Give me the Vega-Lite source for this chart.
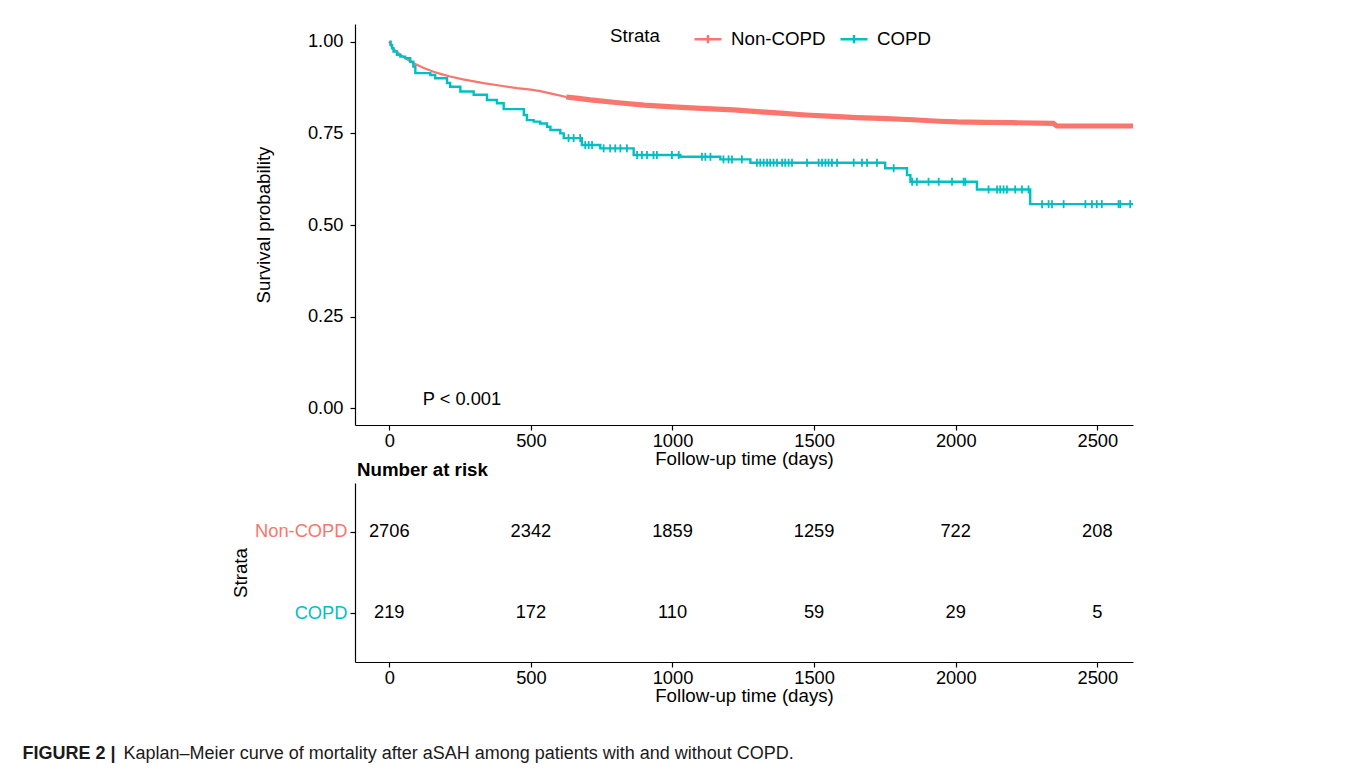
{
  "$schema": "https://vega.github.io/schema/vega-lite/v6.json",
  "background": "white",
  "padding": {"left": 22, "top": 24, "right": 10, "bottom": 10},
  "config": {
    "font": "Liberation Sans",
    "view": {"stroke": null},
    "axis": {"domainColor": "#000000", "tickColor": "#000000", "labelColor": "#000000", "titleColor": "#000000", "labelFontSize": 18.3, "titleFontSize": 18.7, "titleFontWeight": "normal", "grid": false, "tickSize": 5, "domainWidth": 1.2, "tickWidth": 1.2, "labelFont": "Liberation Sans", "titleFont": "Liberation Sans"},
    "legend": {"labelFont": "Liberation Sans", "titleFont": "Liberation Sans"}
  },
  "datasets": {
    "km": [
      {"strata": "Non-COPD", "t": 0, "S": 1.0},
      {"strata": "Non-COPD", "t": 5, "S": 0.99},
      {"strata": "Non-COPD", "t": 12, "S": 0.982},
      {"strata": "Non-COPD", "t": 20, "S": 0.976},
      {"strata": "Non-COPD", "t": 27, "S": 0.972},
      {"strata": "Non-COPD", "t": 40, "S": 0.964},
      {"strata": "Non-COPD", "t": 60, "S": 0.953},
      {"strata": "Non-COPD", "t": 86, "S": 0.941},
      {"strata": "Non-COPD", "t": 120, "S": 0.929},
      {"strata": "Non-COPD", "t": 156, "S": 0.918},
      {"strata": "Non-COPD", "t": 190, "S": 0.91},
      {"strata": "Non-COPD", "t": 215, "S": 0.905},
      {"strata": "Non-COPD", "t": 260, "S": 0.897},
      {"strata": "Non-COPD", "t": 333, "S": 0.887},
      {"strata": "Non-COPD", "t": 400, "S": 0.879},
      {"strata": "Non-COPD", "t": 451, "S": 0.873},
      {"strata": "Non-COPD", "t": 500, "S": 0.869},
      {"strata": "Non-COPD", "t": 533, "S": 0.865},
      {"strata": "Non-COPD", "t": 580, "S": 0.857},
      {"strata": "Non-COPD", "t": 625, "S": 0.849},
      {"strata": "Non-COPD", "t": 660, "S": 0.846},
      {"strata": "Non-COPD", "t": 710, "S": 0.841},
      {"strata": "Non-COPD", "t": 800, "S": 0.834},
      {"strata": "Non-COPD", "t": 900, "S": 0.827},
      {"strata": "Non-COPD", "t": 1000, "S": 0.822},
      {"strata": "Non-COPD", "t": 1100, "S": 0.818},
      {"strata": "Non-COPD", "t": 1215, "S": 0.814},
      {"strata": "Non-COPD", "t": 1300, "S": 0.809},
      {"strata": "Non-COPD", "t": 1381, "S": 0.805},
      {"strata": "Non-COPD", "t": 1470, "S": 0.8},
      {"strata": "Non-COPD", "t": 1568, "S": 0.796},
      {"strata": "Non-COPD", "t": 1650, "S": 0.793},
      {"strata": "Non-COPD", "t": 1734, "S": 0.791},
      {"strata": "Non-COPD", "t": 1850, "S": 0.787},
      {"strata": "Non-COPD", "t": 1940, "S": 0.783},
      {"strata": "Non-COPD", "t": 2005, "S": 0.781},
      {"strata": "Non-COPD", "t": 2100, "S": 0.78},
      {"strata": "Non-COPD", "t": 2200, "S": 0.779},
      {"strata": "Non-COPD", "t": 2345, "S": 0.777},
      {"strata": "Non-COPD", "t": 2357, "S": 0.77},
      {"strata": "Non-COPD", "t": 2450, "S": 0.77},
      {"strata": "Non-COPD", "t": 2626, "S": 0.77},
      {"strata": "COPD", "t": 0, "S": 1.0},
      {"strata": "COPD", "t": 5, "S": 0.991},
      {"strata": "COPD", "t": 10, "S": 0.982},
      {"strata": "COPD", "t": 15, "S": 0.973},
      {"strata": "COPD", "t": 27, "S": 0.964},
      {"strata": "COPD", "t": 39, "S": 0.959},
      {"strata": "COPD", "t": 56, "S": 0.955},
      {"strata": "COPD", "t": 74, "S": 0.945},
      {"strata": "COPD", "t": 85, "S": 0.932},
      {"strata": "COPD", "t": 92, "S": 0.914},
      {"strata": "COPD", "t": 145, "S": 0.909},
      {"strata": "COPD", "t": 162, "S": 0.9},
      {"strata": "COPD", "t": 204, "S": 0.887},
      {"strata": "COPD", "t": 215, "S": 0.877},
      {"strata": "COPD", "t": 251, "S": 0.864},
      {"strata": "COPD", "t": 298, "S": 0.855},
      {"strata": "COPD", "t": 345, "S": 0.841},
      {"strata": "COPD", "t": 380, "S": 0.832},
      {"strata": "COPD", "t": 404, "S": 0.816},
      {"strata": "COPD", "t": 475, "S": 0.8},
      {"strata": "COPD", "t": 486, "S": 0.786},
      {"strata": "COPD", "t": 510, "S": 0.782},
      {"strata": "COPD", "t": 533, "S": 0.777},
      {"strata": "COPD", "t": 557, "S": 0.768},
      {"strata": "COPD", "t": 569, "S": 0.759},
      {"strata": "COPD", "t": 604, "S": 0.75},
      {"strata": "COPD", "t": 616, "S": 0.737},
      {"strata": "COPD", "t": 680, "S": 0.718},
      {"strata": "COPD", "t": 745, "S": 0.709},
      {"strata": "COPD", "t": 863, "S": 0.691},
      {"strata": "COPD", "t": 1028, "S": 0.686},
      {"strata": "COPD", "t": 1169, "S": 0.679},
      {"strata": "COPD", "t": 1275, "S": 0.67},
      {"strata": "COPD", "t": 1751, "S": 0.655},
      {"strata": "COPD", "t": 1828, "S": 0.636},
      {"strata": "COPD", "t": 1840, "S": 0.618},
      {"strata": "COPD", "t": 2075, "S": 0.597},
      {"strata": "COPD", "t": 2263, "S": 0.557},
      {"strata": "COPD", "t": 2626, "S": 0.557}
    ],
    "censor": [
      {"strata": "COPD", "t": 633, "S": 0.737},
      {"strata": "COPD", "t": 651, "S": 0.737},
      {"strata": "COPD", "t": 674, "S": 0.737},
      {"strata": "COPD", "t": 692, "S": 0.718},
      {"strata": "COPD", "t": 704, "S": 0.718},
      {"strata": "COPD", "t": 716, "S": 0.718},
      {"strata": "COPD", "t": 757, "S": 0.709},
      {"strata": "COPD", "t": 780, "S": 0.709},
      {"strata": "COPD", "t": 798, "S": 0.709},
      {"strata": "COPD", "t": 816, "S": 0.709},
      {"strata": "COPD", "t": 839, "S": 0.709},
      {"strata": "COPD", "t": 875, "S": 0.691},
      {"strata": "COPD", "t": 892, "S": 0.691},
      {"strata": "COPD", "t": 910, "S": 0.691},
      {"strata": "COPD", "t": 933, "S": 0.691},
      {"strata": "COPD", "t": 945, "S": 0.691},
      {"strata": "COPD", "t": 998, "S": 0.691},
      {"strata": "COPD", "t": 1022, "S": 0.691},
      {"strata": "COPD", "t": 1104, "S": 0.686},
      {"strata": "COPD", "t": 1116, "S": 0.686},
      {"strata": "COPD", "t": 1134, "S": 0.686},
      {"strata": "COPD", "t": 1180, "S": 0.679},
      {"strata": "COPD", "t": 1198, "S": 0.679},
      {"strata": "COPD", "t": 1210, "S": 0.679},
      {"strata": "COPD", "t": 1245, "S": 0.679},
      {"strata": "COPD", "t": 1298, "S": 0.67},
      {"strata": "COPD", "t": 1310, "S": 0.67},
      {"strata": "COPD", "t": 1322, "S": 0.67},
      {"strata": "COPD", "t": 1334, "S": 0.67},
      {"strata": "COPD", "t": 1345, "S": 0.67},
      {"strata": "COPD", "t": 1357, "S": 0.67},
      {"strata": "COPD", "t": 1369, "S": 0.67},
      {"strata": "COPD", "t": 1387, "S": 0.67},
      {"strata": "COPD", "t": 1398, "S": 0.67},
      {"strata": "COPD", "t": 1410, "S": 0.67},
      {"strata": "COPD", "t": 1422, "S": 0.67},
      {"strata": "COPD", "t": 1475, "S": 0.67},
      {"strata": "COPD", "t": 1516, "S": 0.67},
      {"strata": "COPD", "t": 1528, "S": 0.67},
      {"strata": "COPD", "t": 1540, "S": 0.67},
      {"strata": "COPD", "t": 1551, "S": 0.67},
      {"strata": "COPD", "t": 1563, "S": 0.67},
      {"strata": "COPD", "t": 1581, "S": 0.67},
      {"strata": "COPD", "t": 1640, "S": 0.67},
      {"strata": "COPD", "t": 1669, "S": 0.67},
      {"strata": "COPD", "t": 1687, "S": 0.67},
      {"strata": "COPD", "t": 1722, "S": 0.67},
      {"strata": "COPD", "t": 1781, "S": 0.655},
      {"strata": "COPD", "t": 1846, "S": 0.618},
      {"strata": "COPD", "t": 1863, "S": 0.618},
      {"strata": "COPD", "t": 1904, "S": 0.618},
      {"strata": "COPD", "t": 1940, "S": 0.618},
      {"strata": "COPD", "t": 1987, "S": 0.618},
      {"strata": "COPD", "t": 2028, "S": 0.618},
      {"strata": "COPD", "t": 2034, "S": 0.618},
      {"strata": "COPD", "t": 2116, "S": 0.597},
      {"strata": "COPD", "t": 2146, "S": 0.597},
      {"strata": "COPD", "t": 2157, "S": 0.597},
      {"strata": "COPD", "t": 2169, "S": 0.597},
      {"strata": "COPD", "t": 2181, "S": 0.597},
      {"strata": "COPD", "t": 2210, "S": 0.597},
      {"strata": "COPD", "t": 2234, "S": 0.597},
      {"strata": "COPD", "t": 2257, "S": 0.597},
      {"strata": "COPD", "t": 2305, "S": 0.557},
      {"strata": "COPD", "t": 2328, "S": 0.557},
      {"strata": "COPD", "t": 2340, "S": 0.557},
      {"strata": "COPD", "t": 2381, "S": 0.557},
      {"strata": "COPD", "t": 2458, "S": 0.557},
      {"strata": "COPD", "t": 2481, "S": 0.557},
      {"strata": "COPD", "t": 2498, "S": 0.557},
      {"strata": "COPD", "t": 2516, "S": 0.557},
      {"strata": "COPD", "t": 2575, "S": 0.557},
      {"strata": "COPD", "t": 2581, "S": 0.557},
      {"strata": "COPD", "t": 2616, "S": 0.557}
    ],
    "risk": [
      {"strata": "Non-COPD", "t": 0, "n": 2706},
      {"strata": "Non-COPD", "t": 500, "n": 2342},
      {"strata": "Non-COPD", "t": 1000, "n": 1859},
      {"strata": "Non-COPD", "t": 1500, "n": 1259},
      {"strata": "Non-COPD", "t": 2000, "n": 722},
      {"strata": "Non-COPD", "t": 2500, "n": 208},
      {"strata": "COPD", "t": 0, "n": 219},
      {"strata": "COPD", "t": 500, "n": 172},
      {"strata": "COPD", "t": 1000, "n": 110},
      {"strata": "COPD", "t": 1500, "n": 59},
      {"strata": "COPD", "t": 2000, "n": 29},
      {"strata": "COPD", "t": 2500, "n": 5}
    ]
  },
  "title": {"text": "FIGURE 2 |", "orient": "bottom", "anchor": "start", "frame": "bounds", "font": "Liberation Sans", "fontSize": 18, "fontWeight": "bold", "color": "#1a1a1a", "dx": -101, "dy": -18, "offset": 0},
  "vconcat": [
    {
      "bounds": "flush",
      "spacing": 58,
      "title": {"text": "Kaplan–Meier curve of mortality after aSAH among patients with and without COPD.", "orient": "bottom", "anchor": "start", "frame": "bounds", "font": "Liberation Sans", "fontSize": 18, "fontWeight": "normal", "color": "#1a1a1a", "dx": -108, "offset": 40},
      "vconcat": [
        {
          "width": 778,
          "height": 401,
          "layer": [
            {
              "data": {"name": "km"},
              "transform": [{"filter": "datum.strata == 'Non-COPD'"}],
              "mark": {"type": "line", "strokeWidth": 2.2, "interpolate": "linear"},
              "encoding": {
                "x": {"field": "t", "type": "quantitative", "scale": {"domain": [-121, 2626], "nice": false, "zero": false}, "axis": {"title": "Follow-up time (days)", "values": [0, 500, 1000, 1500, 2000, 2500], "format": "d", "labelPadding": 2, "titlePadding": 0}},
                "y": {"field": "S", "type": "quantitative", "scale": {"domain": [-0.045, 1.048], "nice": false, "zero": false}, "axis": {"title": "Survival probability", "values": [0, 0.25, 0.5, 0.75, 1], "format": ".2f", "labelPadding": 7, "titlePadding": 34}},
                "color": {"field": "strata", "type": "nominal", "scale": {"domain": ["Non-COPD", "COPD"], "range": ["#F8766D", "#00BFC4"]},
                  "legend": {"title": "Strata", "orient": "none", "legendX": 255, "legendY": 0, "direction": "horizontal", "titleOrient": "left", "titleFontSize": 18.7, "titleFontWeight": "normal", "titleColor": "#000000", "labelFontSize": 18.7, "labelColor": "#000000", "symbolType": "M-1,0H1M0,-0.3V0.3", "symbolSize": 729, "symbolStrokeWidth": 2.5, "labelOffset": 8, "columnPadding": 9, "titlePadding": 33}}
              }
            },
            {
              "data": {"name": "km"},
              "transform": [{"filter": "datum.strata == 'Non-COPD' && datum.t >= 625"}],
              "mark": {"type": "line", "strokeWidth": 5.2, "interpolate": "linear"},
              "encoding": {
                "x": {"field": "t", "type": "quantitative"},
                "y": {"field": "S", "type": "quantitative"},
                "color": {"field": "strata", "type": "nominal"}
              }
            },
            {
              "data": {"name": "km"},
              "transform": [{"filter": "datum.strata == 'COPD'"}],
              "mark": {"type": "line", "strokeWidth": 2.4, "interpolate": "step-after"},
              "encoding": {
                "x": {"field": "t", "type": "quantitative"},
                "y": {"field": "S", "type": "quantitative"},
                "color": {"field": "strata", "type": "nominal"}
              }
            },
            {
              "data": {"name": "censor"},
              "mark": {"type": "tick", "orient": "vertical", "size": 8, "thickness": 1.8, "opacity": 1},
              "encoding": {
                "x": {"field": "t", "type": "quantitative"},
                "y": {"field": "S", "type": "quantitative"},
                "color": {"field": "strata", "type": "nominal"}
              }
            },
            {
              "data": {"values": [{"label": "P < 0.001"}]},
              "mark": {"type": "text", "align": "left", "baseline": "middle", "fontSize": 18.3, "color": "#000000"},
              "encoding": {
                "x": {"datum": 118},
                "y": {"datum": 0.023},
                "text": {"field": "label"}
              }
            }
          ]
        },
        {
          "width": 778,
          "height": 179,
          "title": {"text": "Number at risk", "anchor": "start", "frame": "group", "fontSize": 18.7, "fontWeight": "bold", "color": "#000000", "offset": 3, "dx": 2},
          "data": {"name": "risk"},
          "mark": {"type": "text", "fontSize": 18.3, "color": "#000000", "baseline": "middle"},
          "encoding": {
            "x": {"field": "t", "type": "quantitative", "scale": {"domain": [-121, 2626], "nice": false, "zero": false}, "axis": {"title": "Follow-up time (days)", "values": [0, 500, 1000, 1500, 2000, 2500], "format": "d", "labelPadding": 2, "titlePadding": 0}},
            "y": {"field": "strata", "type": "nominal", "scale": {"type": "point", "domain": ["Non-COPD", "COPD"], "padding": 0.6}, "axis": {"title": "Strata", "labelPadding": 3, "titlePadding": 4, "labelColor": {"expr": "datum.value == 'Non-COPD' ? '#F8766D' : '#00BFC4'"}}},
            "text": {"field": "n", "type": "quantitative"}
          }
        }
      ]
    }
  ]
}
